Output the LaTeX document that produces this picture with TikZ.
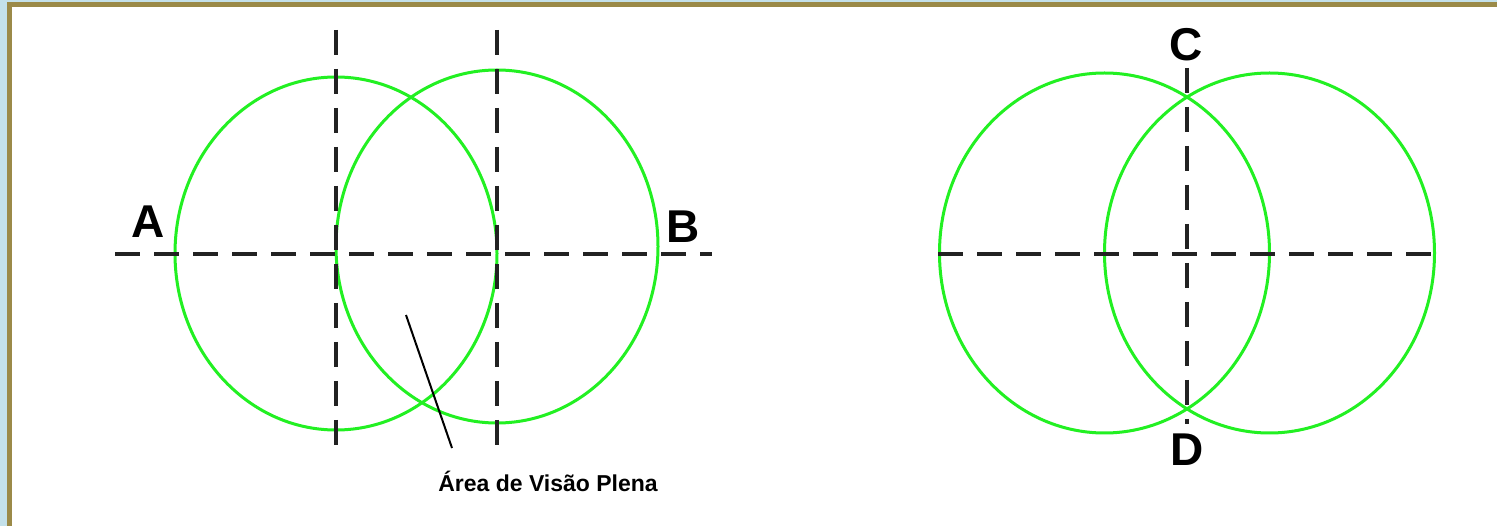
\documentclass[tikz,border=0pt]{standalone}
\usepackage{fontspec}
\setmainfont{Liberation Sans}
\definecolor{olive}{HTML}{9B8A48}
\definecolor{paleblue}{HTML}{C4E1EA}
\definecolor{ringgreen}{HTML}{22F022}
\definecolor{dashgray}{HTML}{222222}
\tikzset{
  ring/.style={draw=ringgreen, line width=3pt},
  axis/.style={draw=dashgray, line width=3.5pt, dash pattern=on 25pt off 14pt},
  leader/.style={draw=black, line width=2pt},
  letter/.style={font=\fontsize{46}{50}\selectfont\bfseries, inner sep=0pt},
  caption/.style={font=\fontsize{23}{26}\selectfont\bfseries, inner sep=0pt}
}
\begin{document}
\begin{tikzpicture}[x=1pt,y=-1pt]
\useasboundingbox (0,0) rectangle (1497,526);
% frame
\fill[white] (0,0) rectangle (1497,526);
\fill[paleblue] (0,0) rectangle (1497,2);
\fill[paleblue] (0,0) rectangle (7,526);
\fill[olive] (7,2) rectangle (1497,7);
\fill[olive] (7,2) rectangle (12,526);

% ---- left figure ----
\coordinate (h1a) at (115,254);
\coordinate (h1b) at (712,254);
\coordinate (v1a) at (336,30);
\coordinate (v1b) at (336,459);
\coordinate (v2a) at (497,30);
\coordinate (v2b) at (497,453);
\draw[ring] (336,253.5) ellipse [x radius=161, y radius=176.5];
\draw[ring] (497,246.5) ellipse [x radius=161, y radius=176.5];
\draw[axis] (h1a) -- (h1b);
\draw[axis] (v1a) -- (v1b);
\draw[axis] (v2a) -- (v2b);
\node[letter] (A) at (148,222) {A};
\node[letter] (B) at (683,227) {B};
\node[caption] (cap) at (548,481) {Área de Visão Plena};
\coordinate (ldr) at (406,315);
\draw[leader] (ldr) -- (452,448);

% ---- right figure ----
\coordinate (h2a) at (938,254);
\coordinate (h2b) at (1436,254);
\coordinate (v3a) at (1187,68);
\coordinate (v3b) at (1187,424);
\draw[ring] (1104.5,253) ellipse [x radius=165, y radius=180];
\draw[ring] (1269.5,253) ellipse [x radius=165, y radius=180];
\draw[axis] (h2a) -- (h2b);
\draw[axis] (v3a) -- (v3b);
\node[letter] (C) at (1186,45) {C};
\node[letter] (D) at (1187,450) {D};
\end{tikzpicture}
\end{document}
